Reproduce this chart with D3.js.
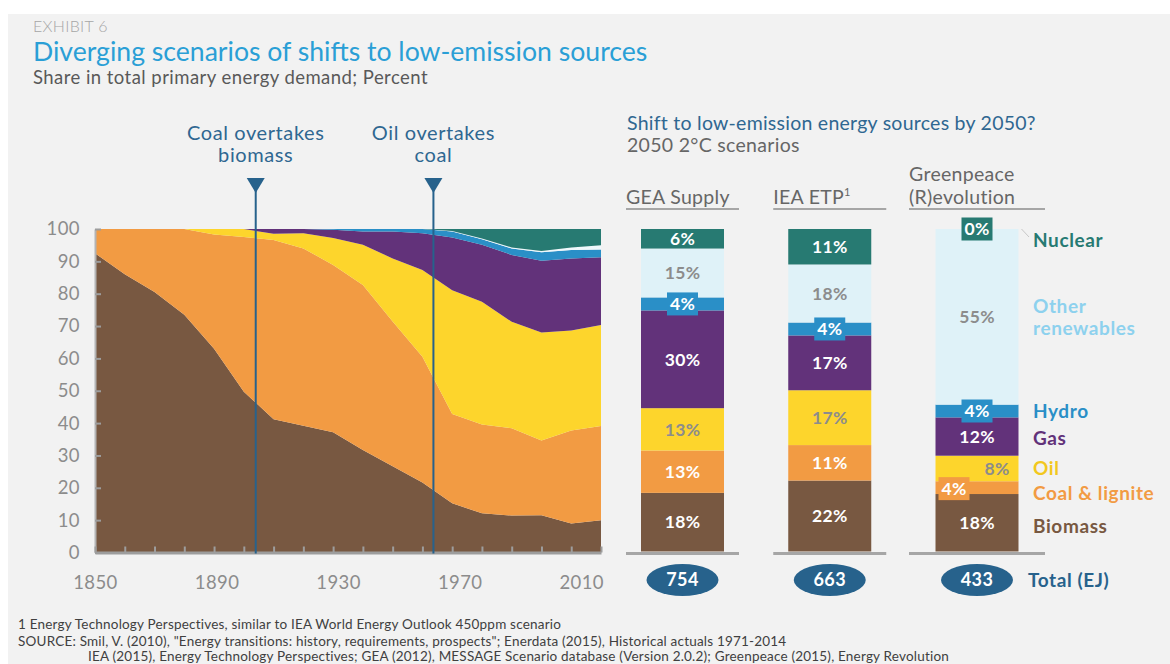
<!DOCTYPE html>
<html>
<head>
<meta charset="utf-8">
<script src="https://cdn.jsdelivr.net/npm/d3@7"></script>
<style>
  body { margin: 0; background: #fff; }
  svg { display: block; font-family: Lato, "Open Sans", sans-serif; }
</style>
</head>
<body>
<svg id="svg1" width="1170" height="664"></svg>
<script>
// historical shares, percent of primary energy
var years      = [1850, 1860, 1870, 1880, 1890, 1900, 1910, 1920, 1930, 1940, 1950, 1960, 1970, 1980, 1990, 2000, 2010, 2020];
var biomass    = [92.5, 86.0, 80.5, 73.5, 63.0, 49.7, 41.2, 39.2, 37.2, 31.7, 26.7, 21.6, 15.2, 12.1, 11.4, 11.5, 9.0, 10.0];
var coal       = [7.5, 14.0, 19.5, 26.5, 35.3, 47.8, 55.4, 54.8, 51.7, 51.0, 44.7, 38.9, 27.6, 27.5, 27.0, 23.1, 28.7, 29.1];
var oil        = [0, 0, 0, 0, 1.7, 2.5, 1.9, 4.7, 8.3, 12.4, 19.5, 26.8, 38.3, 37.9, 32.9, 33.4, 30.9, 31.2];
var gas        = [0, 0, 0, 0, 0, 0, 1.5, 1.3, 2.6, 4.1, 8.3, 11.4, 16.3, 17.6, 20.7, 22.2, 22.3, 21.0];
var hydro      = [0, 0, 0, 0, 0, 0, 0, 0, 0.2, 0.8, 0.8, 1.3, 1.8, 1.7, 2.0, 2.6, 2.6, 2.4];
var renewables = [0, 0, 0, 0, 0, 0, 0, 0, 0, 0, 0, 0, 0.2, 0.3, 0.3, 0.4, 0.8, 1.3];
var nuclear    = [0, 0, 0, 0, 0, 0, 0, 0, 0, 0, 0, 0, 0.6, 2.9, 5.7, 6.8, 5.7, 5.0];

var yearLabels = [1850, 1890, 1930, 1970, 2010];
var yTicks = [0, 10, 20, 30, 40, 50, 60, 70, 80, 90, 100];

var markerYears  = [1904, 1963.7];
var markerLabels = [["Coal overtakes", "biomass"], ["Oil overtakes", "coal"]];

// 2050 scenarios
var scenarios     = ["GEA Supply", "IEA ETP", "Greenpeace (R)evolution"];
var barBiomass    = [18, 22, 18];
var barCoal       = [13, 11, 4];
var barOil        = [13, 17, 8];
var barGas        = [30, 17, 12];
var barHydro      = [4, 4, 4];
var barRenewables = [15, 18, 55];
var barNuclear    = [6, 11, 0];
var totals        = [754, 663, 433];

var keys = ["biomass", "coal", "oil", "gas", "hydro", "renewables", "nuclear"];
var legendNames = {
  biomass: ["Biomass"], coal: ["Coal & lignite"], oil: ["Oil"], gas: ["Gas"],
  hydro: ["Hydro"], renewables: ["Other", "renewables"], nuclear: ["Nuclear"]
};
var colors = {
  biomass: "#785841", coal: "#f29b43", oil: "#fdd52c", gas: "#62327a",
  hydro: "#2a8fc7", renewables: "#dff2f8", nuclear: "#277a72"
};
var textColors = {
  biomass: "#785841", coal: "#f29b43", oil: "#f2c81e", gas: "#62327a",
  hydro: "#2a8fc7", renewables: "#8dd1ee", nuclear: "#277a72"
};
var darkBlue = "#27628c";
var grey = "#9d9d9d";

var svg = d3.select("#svg1");

svg.append("rect")
   .attr("x", 8).attr("y", 14)
   .attr("width", 1162).attr("height", 650)
   .attr("fill", "#f2f2f2");

// titles
svg.append("text").attr("x", 33).attr("y", 32)
   .attr("font-size", 16).attr("fill", "#a6a6a6").attr("font-weight", 300)
   .attr("letter-spacing", 0.3)
   .text("EXHIBIT 6");
svg.append("text").attr("x", 33).attr("y", 61)
   .attr("font-size", 26.6).attr("fill", "#2a9fd6")
   .text("Diverging scenarios of shifts to low-emission sources");
svg.append("text").attr("x", 33).attr("y", 84)
   .attr("font-size", 18.5).attr("fill", "#595959")
   .attr("letter-spacing", 0.45)
   .text("Share in total primary energy demand; Percent");

// ---------- stacked area ----------
var rows = years.map(function(yr, i) {
  return { year: yr, biomass: biomass[i], coal: coal[i], oil: oil[i], gas: gas[i],
           hydro: hydro[i], renewables: renewables[i], nuclear: nuclear[i] };
});

var scaleX = d3.scaleLinear().domain([1850, 2020]).range([95, 601]);
var scaleY = d3.scaleLinear().domain([0, 100]).range([552.5, 229]);

var series = d3.stack().keys(keys)(rows);

var area = d3.area()
             .x(function(d) { return scaleX(d.data.year); })
             .y0(function(d) { return scaleY(d[0]); })
             .y1(function(d) { return scaleY(d[1]); });

svg.append("g")
   .selectAll("path")
   .data(series)
   .enter()
   .append("path")
   .attr("d", area)
   .attr("fill", function(d) { return d.key == "renewables" ? "#eef8fc" : colors[d.key]; });

var yAxis = svg.append("g")
               .attr("transform", "translate(" + scaleX(1850) + ",0)")
               .call(d3.axisLeft(scaleY).tickValues(yTicks).tickSize(-6).tickSizeOuter(0).tickPadding(15));

var xAxis = svg.append("g")
               .attr("transform", "translate(0," + scaleY(0) + ")")
               .call(d3.axisBottom(scaleX)
                       .tickValues(d3.range(1850, 2021, 10))
                       .tickSize(-6).tickSizeOuter(0).tickPadding(23)
                       .tickFormat(function(d) { return yearLabels.indexOf(d) >= 0 ? d : ""; }));

yAxis.select(".domain").attr("stroke", "#b4b4b4").attr("stroke-width", 2);
xAxis.select(".domain").attr("stroke", grey).attr("stroke-width", 3);
svg.selectAll(".tick line").attr("stroke", grey).attr("stroke-width", 2);
svg.selectAll(".tick text")
   .attr("fill", "#8c8c8c")
   .attr("font-size", 18.5)
   .attr("letter-spacing", 0.4)
   .attr("font-family", "Lato, sans-serif");

// year labels sit a little right of their ticks in the original
xAxis.selectAll(".tick text")
     .attr("dx", function(d) { return (d - 1850) / 16; });

// milestone markers
var markers = svg.append("g")
                 .selectAll("g")
                 .data(markerYears)
                 .enter()
                 .append("g")
                 .attr("transform", function(d) { return "translate(" + scaleX(d) + ",0)"; });

markers.append("line")
       .attr("y1", 186).attr("y2", scaleY(0) + 1)
       .attr("stroke", darkBlue).attr("stroke-width", 2);

markers.append("path")
       .attr("d", "M-9,178L9,178L0,193Z")
       .attr("fill", darkBlue);

markers.append("text")
       .attr("text-anchor", "middle")
       .attr("font-size", 20)
       .attr("letter-spacing", 0.6)
       .attr("fill", "#2f6791")
       .selectAll("tspan")
       .data(function(d, i) { return markerLabels[i]; })
       .enter()
       .append("tspan")
       .attr("x", 0)
       .attr("y", function(d, i) { return 140 + i * 22; })
       .text(function(d) { return d; });

// ---------- 2050 bars ----------
svg.append("text").attr("x", 627).attr("y", 130)
   .attr("font-size", 19.5).attr("fill", "#2f6791")
   .attr("letter-spacing", 0.25)
   .text("Shift to low-emission energy sources by 2050?");
svg.append("text").attr("x", 627).attr("y", 152)
   .attr("font-size", 19.5).attr("fill", "#666")
   .attr("letter-spacing", 0.3)
   .text("2050 2°C scenarios");

var barRows = scenarios.map(function(s, i) {
  return { scenario: s, biomass: barBiomass[i], coal: barCoal[i], oil: barOil[i], gas: barGas[i],
           hydro: barHydro[i], renewables: barRenewables[i], nuclear: barNuclear[i], total: totals[i] };
});

var barX = d3.scalePoint().domain(scenarios).range([682.5, 977]);
var barW = 83;
var barY = d3.scaleLinear().domain([0, 1]).range([551.5, 229]);

var barSeries = d3.stack().keys(keys).offset(d3.stackOffsetExpand)(barRows);

// column headers with underline
var headerWidths = [113, 113, 136];
var headerLines = [["GEA Supply"], ["IEA ETP"], ["Greenpeace", "(R)evolution"]];

var headers = svg.append("g")
                 .selectAll("g")
                 .data(scenarios)
                 .enter()
                 .append("g")
                 .attr("transform", function(d, i) { return "translate(" + (barX(d) - headerWidths[i] / 2) + ",0)"; });

headers.append("line")
       .attr("x1", 0).attr("x2", function(d, i) { return headerWidths[i]; })
       .attr("y1", 209).attr("y2", 209)
       .attr("stroke", "#8c8c8c").attr("stroke-width", 1.5);

headers.append("line")
       .attr("x1", 0).attr("x2", function(d, i) { return headerWidths[i]; })
       .attr("y1", 553.5).attr("y2", 553.5)
       .attr("stroke", "#a6a6a6").attr("stroke-width", 3);

headers.append("text")
       .attr("font-size", 19.5)
       .attr("letter-spacing", 0.3)
       .attr("fill", "#666")
       .selectAll("tspan")
       .data(function(d, i) { return headerLines[i].map(function(t, j) { return { t: t, j: j, n: headerLines[i].length }; }); })
       .enter()
       .append("tspan")
       .attr("x", 0)
       .attr("y", function(d) { return 204 - (d.n - 1 - d.j) * 23; })
       .text(function(d) { return d.t; });

headers.filter(function(d, i) { return i == 1; })
       .select("text")
       .append("tspan")
       .attr("font-size", 11)
       .attr("dy", -8)
       .text("1");

// segments
var layers = svg.append("g")
                .selectAll("g")
                .data(barSeries)
                .enter()
                .append("g")
                .attr("fill", function(d) { return colors[d.key]; });

layers.selectAll("rect")
      .data(function(d) { return d; })
      .enter()
      .append("rect")
      .attr("x", function(d) { return barX(d.data.scenario) - barW / 2; })
      .attr("width", barW)
      .attr("y", function(d) { return barY(d[1]); })
      .attr("height", function(d) { return barY(d[0]) - barY(d[1]); });

// segment labels
var labelShift = { "Greenpeace (R)evolution|coal": -23, "Greenpeace (R)evolution|oil": 20 };
var labelNudge = { "Greenpeace (R)evolution|coal": 1 };

var segLabels = [];
barSeries.forEach(function(s) {
  s.forEach(function(d) {
    segLabels.push({ key: s.key, scenario: d.data.scenario, value: d.data[s.key],
                     y: (barY(d[0]) + barY(d[1])) / 2 });
  });
});

var labelG = svg.append("g")
                .selectAll("g")
                .data(segLabels)
                .enter()
                .append("g")
                .attr("transform", function(d) {
                  var id = d.scenario + "|" + d.key;
                  return "translate(" + (barX(d.scenario) + (labelShift[id] || 0)) + "," + (d.y + (labelNudge[id] || 0)) + ")";
                });

labelG.filter(function(d) { return d.value < 5 && !(d.key == "oil"); })
      .append("rect")
      .attr("x", -15.5).attr("y", -11.5)
      .attr("width", 31).attr("height", 23)
      .attr("fill", function(d) { return colors[d.key]; });

labelG.append("text")
      .attr("text-anchor", "middle")
      .attr("dy", "0.36em")
      .attr("font-size", 17.5)
      .attr("font-weight", 700)
      .attr("letter-spacing", 0.3)
      .attr("fill", function(d) { return (d.key == "renewables" || d.key == "oil") ? "#8c8c8c" : "#fff"; })
      .text(function(d) { return d.value + "%"; });

// totals
var totalG = svg.append("g")
                .selectAll("g")
                .data(barRows)
                .enter()
                .append("g")
                .attr("transform", function(d) { return "translate(" + barX(d.scenario) + ",580)"; });

totalG.append("ellipse")
      .attr("rx", 36).attr("ry", 16)
      .attr("fill", darkBlue);

totalG.append("text")
      .attr("text-anchor", "middle")
      .attr("dy", "0.36em")
      .attr("font-size", 18)
      .attr("font-weight", 700)
      .attr("letter-spacing", 0.4)
      .attr("fill", "#fff")
      .text(function(d) { return d.total; });

// legend next to last bar
var lastSeries = barSeries.map(function(s) { return { key: s.key, d: s[s.length - 1] }; });
var legendNudge = { nuclear: 11, coal: 6, biomass: 3, gas: 2 };
var legendX = 1033;

var legend = svg.append("g")
                .selectAll("text")
                .data(lastSeries)
                .enter()
                .append("text")
                .attr("font-size", 19)
                .attr("font-weight", 700)
                .attr("letter-spacing", 0.6)
                .attr("fill", function(d) { return textColors[d.key]; })
                .attr("transform", function(d) {
                  var cy = (barY(d.d[0]) + barY(d.d[1])) / 2 + (legendNudge[d.key] || 0);
                  return "translate(" + legendX + "," + cy + ")";
                });

legend.selectAll("tspan")
      .data(function(d) {
        var n = legendNames[d.key].length;
        return legendNames[d.key].map(function(t, j) { return { t: t, dy: (j - (n - 1) / 2) * 22 }; });
      })
      .enter()
      .append("tspan")
      .attr("x", 0)
      .attr("y", function(d) { return d.dy; })
      .attr("dy", "0.36em")
      .text(function(d) { return d.t; });

svg.append("line")
   .attr("x1", barX(scenarios[2]) + barW / 2 + 3).attr("y1", 229)
   .attr("x2", legendX - 4).attr("y2", 237)
   .attr("stroke", "#bbb").attr("stroke-width", 0.8);

svg.append("text")
   .attr("x", 1028).attr("y", 580)
   .attr("dy", "0.36em")
   .attr("font-size", 19)
   .attr("font-weight", 700)
   .attr("letter-spacing", 0.6)
   .attr("fill", darkBlue)
   .text("Total (EJ)");

// footnotes
var notes = svg.append("g").attr("font-size", 13.5).attr("letter-spacing", 0.2).attr("fill", "#404040");
notes.append("text").attr("x", 18).attr("y", 629)
     .text("1 Energy Technology Perspectives, similar to IEA World Energy Outlook 450ppm scenario");
notes.append("text").attr("x", 18).attr("y", 646)
     .text("SOURCE: Smil, V. (2010), \"Energy transitions: history, requirements, prospects\"; Enerdata (2015), Historical actuals 1971-2014");
notes.append("text").attr("x", 88).attr("y", 660.5)
     .text("IEA (2015), Energy Technology Perspectives; GEA (2012), MESSAGE Scenario database (Version 2.0.2); Greenpeace (2015), Energy Revolution");
</script>
</body>
</html>
